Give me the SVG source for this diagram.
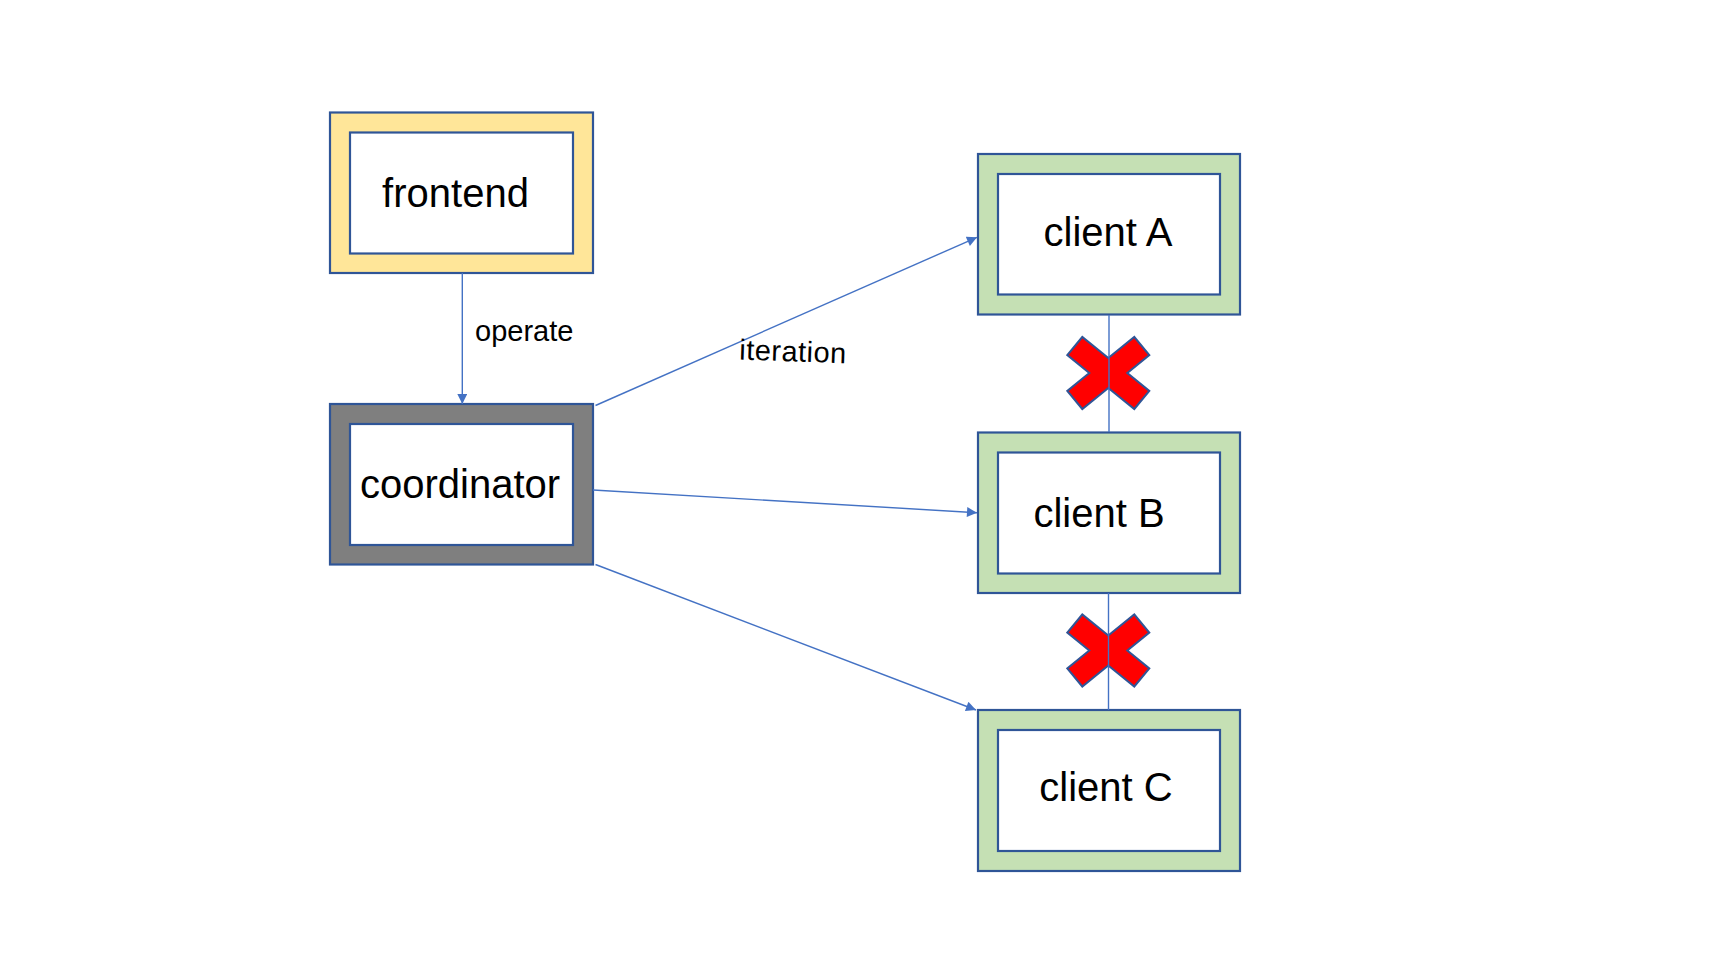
<svg xmlns="http://www.w3.org/2000/svg" width="1720" height="968" viewBox="0 0 1720 968">
  <style>
    .outer { stroke: #2F5597; stroke-width: 2.2; }
    .inner { fill: #FFFFFF; stroke: #2F5597; stroke-width: 2.2; }
    .label { font-family: "Liberation Sans", Arial, sans-serif; font-size: 40px; fill: #000000; }
    .elabel { font-family: "Liberation Sans", Arial, sans-serif; font-size: 29px; fill: #000000; }
    .conn { stroke: #4472C4; stroke-width: 1.4; fill: none; }
    .cross { fill: #FF0000; stroke: #2F5597; stroke-width: 2; stroke-linejoin: miter; }
  </style>
  <defs>
    <marker id="arrow" viewBox="0 0 10 10" refX="10" refY="5" markerWidth="11" markerHeight="10" markerUnits="userSpaceOnUse" orient="auto">
      <path d="M0,0 L10,5 L0,10 Z" fill="#4472C4"/>
    </marker>
    <polygon id="xshape" points="-26,-36 -41,-18 -19,0 -41,18 -26,36 0,15 26,36 41,18 19,0 41,-18 26,-36 0,-15"/>
  </defs>
  <rect width="1720" height="968" fill="#FFFFFF"/>

  <g id="cross-ab">
    <use href="#xshape" class="cross" transform="translate(1108.3,373)"/>
  </g>
  <g id="cross-bc">
    <use href="#xshape" class="cross" transform="translate(1108.3,650.5)"/>
  </g>

  <g id="node-frontend">
    <rect class="outer" x="330" y="112.5" width="263" height="160.5" fill="#FFE699"/>
    <rect class="inner" x="350" y="132.5" width="223" height="121"/>
    <text class="label" x="455.5" y="207" text-anchor="middle">frontend</text>
  </g>

  <g id="node-coordinator">
    <rect class="outer" x="330" y="404" width="263" height="160.5" fill="#7F7F7F"/>
    <rect class="inner" x="350" y="424" width="223" height="121"/>
    <text class="label" x="460" y="498" text-anchor="middle">coordinator</text>
  </g>

  <g id="node-clientA">
    <rect class="outer" x="978" y="154" width="262" height="160.5" fill="#C5E0B4"/>
    <rect class="inner" x="998" y="174" width="222" height="120.5"/>
    <text class="label" x="1108" y="246" text-anchor="middle">client A</text>
  </g>

  <g id="node-clientB">
    <rect class="outer" x="978" y="432.5" width="262" height="160.5" fill="#C5E0B4"/>
    <rect class="inner" x="998" y="452.5" width="222" height="121"/>
    <text class="label" x="1099" y="527" text-anchor="middle">client B</text>
  </g>

  <g id="node-clientC">
    <rect class="outer" x="978" y="710" width="262" height="161" fill="#C5E0B4"/>
    <rect class="inner" x="998" y="730" width="222" height="121"/>
    <text class="label" x="1106" y="801" text-anchor="middle">client C</text>
  </g>

  <g id="connectors">
    <line class="conn" x1="462.3" y1="273" x2="462.3" y2="404" marker-end="url(#arrow)"/>
    <line class="conn" x1="595.5" y1="405.5" x2="977" y2="237.3" marker-end="url(#arrow)"/>
    <line class="conn" x1="593" y1="490" x2="977" y2="512.7" marker-end="url(#arrow)"/>
    <line class="conn" x1="595.5" y1="564.5" x2="976" y2="710" marker-end="url(#arrow)"/>
    <line class="conn" x1="1109" y1="315" x2="1109" y2="432"/>
    <line class="conn" x1="1108.5" y1="593" x2="1108.5" y2="710"/>
    <text class="elabel" x="475" y="341">operate</text>
    <text class="elabel" x="739" y="359.5" textLength="107" transform="rotate(2 739 359.5)">iteration</text>
  </g>
</svg>
